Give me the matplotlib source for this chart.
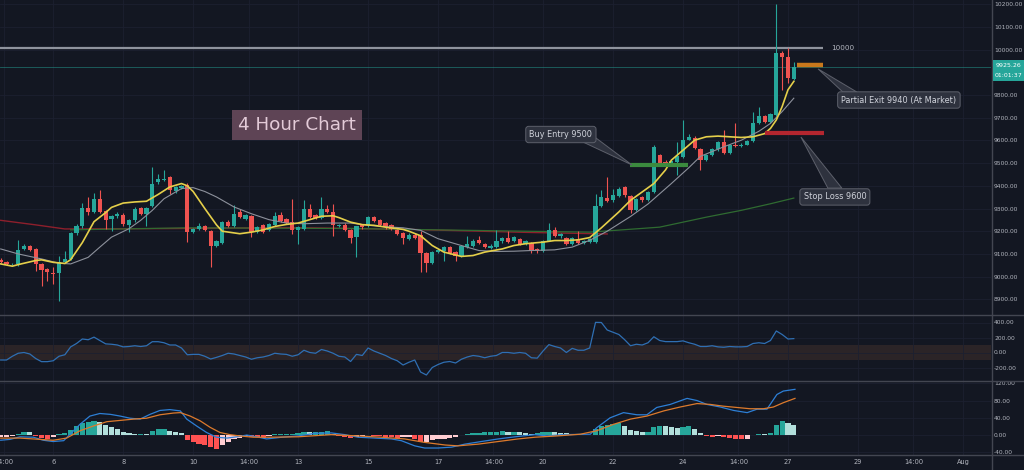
import matplotlib
matplotlib.use('Agg')
import matplotlib.pyplot as plt
import numpy as np
from matplotlib.patches import Rectangle, Polygon
from matplotlib.lines import Line2D

# ---------------- data ----------------
# 4h candles, first candle July 4 12:00, last July 27 04:00 (x axis = day of July)
start_day = 4.5
candle_days = 1 / 6

opens = [9075, 9063, 9054, 9056, 9122, 9133, 9122, 9056, 9034, 9015,
         9015, 9066, 9078, 9192, 9221, 9302, 9284, 9343, 9289, 9255,
         9268, 9273, 9228, 9248, 9302, 9274, 9310, 9417, 9425, 9439,
         9377, 9392, 9405, 9196, 9211, 9225, 9200, 9137, 9149, 9240,
         9223, 9285, 9252, 9265, 9196, 9226, 9204, 9226, 9270, 9255,
         9240, 9207, 9211, 9299, 9270, 9260, 9299, 9285, 9223, 9229,
         9207, 9174, 9226, 9226, 9262, 9251, 9236, 9226, 9207, 9192,
         9166, 9184, 9184, 9103, 9059, 9108, 9115, 9130, 9108, 9093,
         9130, 9137, 9162, 9145, 9127, 9130, 9155, 9171, 9159, 9166,
         9145, 9147, 9122, 9115, 9159, 9206, 9178, 9171, 9142, 9166,
         9149, 9152, 9152, 9310, 9348, 9336, 9354, 9395, 9354, 9292,
         9351, 9336, 9373, 9535, 9506, 9495, 9506, 9528, 9604, 9612,
         9560, 9513, 9535, 9560, 9591, 9543, 9582, 9575, 9582, 9597,
         9678, 9708, 9683, 9712, 9985, 9967, 9871]
highs = [9082, 9068, 9062, 9162, 9144, 9138, 9125, 9060, 9036, 9041,
         9093, 9115, 9195, 9230, 9324, 9351, 9369, 9380, 9292, 9270,
         9285, 9280, 9255, 9305, 9305, 9305, 9481, 9454, 9469, 9442,
         9400, 9405, 9412, 9215, 9236, 9228, 9205, 9160, 9245, 9248,
         9314, 9300, 9275, 9270, 9222, 9230, 9238, 9285, 9285, 9260,
         9344, 9222, 9336, 9322, 9275, 9351, 9314, 9322, 9233, 9235,
         9212, 9225, 9232, 9268, 9268, 9255, 9240, 9230, 9210, 9196,
         9190, 9190, 9203, 9108, 9112, 9122, 9135, 9135, 9112, 9138,
         9181, 9164, 9181, 9150, 9142, 9206, 9175, 9200, 9178, 9170,
         9160, 9152, 9126, 9162, 9236, 9218, 9192, 9175, 9176, 9203,
         9160, 9171, 9366, 9380, 9439, 9388, 9395, 9400, 9358, 9348,
         9356, 9378, 9580, 9540, 9512, 9515, 9594, 9690, 9628, 9618,
         9565, 9540, 9565, 9598, 9646, 9584, 9675, 9588, 9602, 9727,
         9749, 9712, 9722, 10203, 9995, 10007, 9947]
lows = [9062, 9050, 9050, 9049, 9118, 9112, 9027, 8960, 8982, 8967,
        8894, 9060, 9075, 9185, 9215, 9270, 9280, 9280, 9211, 9203,
        9260, 9225, 9196, 9240, 9270, 9225, 9305, 9410, 9420, 9366,
        9370, 9388, 9152, 9190, 9205, 9200, 9044, 9130, 9145, 9218,
        9218, 9258, 9248, 9174, 9190, 9190, 9200, 9222, 9240, 9230,
        9189, 9145, 9205, 9258, 9252, 9255, 9280, 9181, 9218, 9200,
        9150, 9085, 9212, 9220, 9240, 9224, 9212, 9206, 9185, 9145,
        9162, 9165, 9019, 9019, 9055, 9104, 9071, 9098, 9071, 9088,
        9126, 9132, 9142, 9125, 9122, 9126, 9150, 9148, 9154, 9140,
        9140, 9105, 9106, 9110, 9155, 9176, 9172, 9138, 9138, 9144,
        9145, 9148, 9148, 9305, 9328, 9330, 9350, 9352, 9280, 9288,
        9330, 9332, 9368, 9495, 9490, 9490, 9447, 9524, 9600, 9560,
        9469, 9508, 9530, 9555, 9538, 9538, 9572, 9570, 9578, 9592,
        9674, 9678, 9678, 9706, 9823, 9852, 9865]
closes = [9066, 9054, 9057, 9119, 9133, 9118, 9056, 9029, 9022, 9010,
          9066, 9078, 9192, 9221, 9302, 9284, 9343, 9284, 9251, 9267,
          9277, 9230, 9251, 9299, 9274, 9302, 9407, 9429, 9432, 9383,
          9395, 9400, 9196, 9211, 9225, 9206, 9133, 9155, 9240, 9223,
          9277, 9262, 9270, 9196, 9218, 9196, 9233, 9265, 9245, 9236,
          9204, 9218, 9299, 9263, 9258, 9299, 9285, 9226, 9229, 9207,
          9171, 9221, 9218, 9262, 9245, 9229, 9218, 9211, 9189, 9171,
          9184, 9171, 9103, 9059, 9108, 9118, 9130, 9103, 9089, 9133,
          9142, 9159, 9147, 9130, 9137, 9155, 9171, 9152, 9174, 9145,
          9155, 9111, 9111, 9159, 9206, 9181, 9186, 9142, 9171, 9149,
          9155, 9166, 9310, 9351, 9333, 9358, 9388, 9358, 9292, 9343,
          9336, 9373, 9572, 9501, 9495, 9510, 9531, 9604, 9616, 9565,
          9513, 9535, 9560, 9594, 9543, 9579, 9576, 9582, 9597, 9678,
          9708, 9683, 9717, 9985, 9967, 9874, 9925.26]

# moving averages: (candle index, price)
yellow_idx = [0, 2, 3, 6, 7, 9, 11, 12, 14, 16, 18, 19, 21, 23, 25, 27, 29, 31, 32, 33,
              35, 37, 38, 41, 43, 45, 47, 49, 51, 53, 55, 57, 58, 60, 62, 64, 66, 69, 70, 72,
              74, 76, 79, 81, 83, 86, 88, 90, 93, 95, 97, 99, 101, 103, 106, 108, 110, 112, 114, 115,
              117, 119, 121, 123, 125, 127, 129, 131, 132, 133, 134, 135, 136]
yellow_val = [9056, 9046, 9053, 9071, 9074, 9063, 9058, 9075, 9150, 9242, 9282, 9305, 9324, 9329, 9332, 9362, 9395, 9410, 9400, 9375,
              9300, 9228, 9200, 9189, 9196, 9206, 9221, 9230, 9236, 9251, 9266, 9268, 9260, 9240, 9229, 9226, 9218, 9208, 9200, 9180,
              9137, 9108, 9089, 9093, 9108, 9122, 9137, 9145, 9152, 9159, 9159, 9162, 9172, 9215, 9285, 9336, 9373, 9410, 9470, 9513,
              9557, 9601, 9616, 9619, 9616, 9613, 9616, 9630, 9653, 9690, 9749, 9823, 9860]
gray_idx = [0, 3, 7, 10, 12, 15, 17, 19, 22, 24, 26, 28, 31, 33, 35, 37, 40, 43, 46, 49,
            52, 56, 60, 63, 67, 69, 72, 75, 79, 82, 85, 88, 91, 95, 98, 101, 104, 108, 111, 115,
            118, 120, 124, 127, 130, 132, 134, 136]
gray_val = [9122, 9100, 9078, 9059, 9056, 9085, 9130, 9174, 9211, 9248, 9292, 9343, 9388, 9392, 9375, 9351, 9307, 9277, 9251, 9236,
            9233, 9236, 9236, 9226, 9218, 9215, 9204, 9167, 9137, 9115, 9111, 9112, 9115, 9118, 9130, 9160, 9200, 9265, 9320, 9410,
            9480, 9530, 9572, 9601, 9640, 9675, 9727, 9786]
red_ma_idx = [0, 6, 11, 30, 50, 70, 90, 104]
red_ma_val = [9248, 9228, 9210, 9212, 9216, 9208, 9195, 9188]
green_ma_idx = [12, 32, 60, 90, 101, 106, 113, 121, 127, 132, 136]
green_ma_val = [9206, 9215, 9212, 9200, 9196, 9205, 9218, 9262, 9292, 9321, 9346]

# CCI per candle
cci = [-100, -100, -50, -10, 0, -20, -80, -122, -122, -110,
       -50, -30, 75, 120, 180, 170, 205, 160, 115, 110,
       100, 75, 80, 90, 80, 90, 144, 144, 130, 100,
       100, 60, -30, -25, -25, -50, -87, -65, -40, -10,
       -20, -40, -60, -90, -70, -60, -40, -10, -20, -25,
       -50, -30, 30, 0, -10, 40, 20, -10, -50, -60,
       -120, -25, -40, 60, 20, -10, -40, -80, -110, -167,
       -130, -100, -260, -300, -200, -160, -130, -120, -140, -90,
       -60, -40, -50, -70, -50, -40, 0, 0, -10, 0,
       -10, -70, -75, 20, 105, 80, 60, 0, 55, 30,
       30, 60, 402, 400, 300, 270, 240, 170, 90, 110,
       100, 130, 210, 160, 145, 145, 145, 155, 130, 110,
       80, 80, 90, 75, 70, 80, 75, 75, 80, 120,
       130, 120, 160, 287, 240, 180, 185]

# MACD histogram per candle
macd_hist = [-4, -4, -3, 3, 7, 6, -3, -6, -8, -5,
             2, 5, 12, 20, 28, 31, 32, 30, 24, 18,
             13, 8, 4, 3, 3, 2, 10, 13, 14, 10,
             8, 5, -12, -15, -20, -24, -28, -33, -22, -15,
             -10, -6, -3, -4, -5, -6, -3, 3, 3, 3,
             3, 5, 7, 6, 7, 8, 9, 3, -2, -5,
             -6, -4, -3, -1, -2, -3, -4, -5, -6, -5,
             -4, -10, -16, -15, -12, -10, -8, -6, -4, -1,
             3, 4, 5, 6, 7, 8, 8.5, 7, 7.5, 6,
             5, 3, 4, 7, 8, 7, 5, 4, 1, 0.5,
             0.3, 0.2, 13, 20, 23, 26, 28, 22, 12, 10,
             8, 8, 18, 21, 20, 18, 17, 19, 20, 15,
             5, -3, -5, -3, -5, -7, -8, -9, -8, -1,
             3, 2.5, 5, 24, 32, 28, 24]
macd_idx = [0, 1.6, 3.3, 5.6, 7.3, 9, 10.8, 11.9, 13.6, 15.3, 17, 18.8, 20.5, 22.2, 23.9, 25.6, 27.3, 29, 30.8, 31.9,
            33.6, 35.3, 37, 38.8, 40.5, 42.2, 43.9, 45.6, 48.2, 51, 53.9, 56.7, 59, 61.3, 64.2, 67, 68.7, 71, 72.7, 75,
            77.3, 79.6, 82.4, 85.3, 88.2, 91.6, 93.7, 96.5, 101.1, 102.2, 104.5, 106.8, 109.1, 110.8, 112.5, 114.8, 117.7, 119.4, 121.1, 123.4,
            125.7, 128, 129.7, 131.4, 133.1, 134.2, 136.2]
macd_val = [-12, -10, -4, -5, -12, -15, -13, 2, 25, 44, 50, 48, 44, 39, 37, 48, 57, 59, 56, 37,
            21, 6, -5, -7, -4, 0, -4, -9, -5, -2, 4, 5, 1, -5, -7, -9, -13, -25, -30, -30,
            -28, -21, -15, -9, -4, 1, -2, 1, 2, 17, 40, 52, 47, 47, 64, 71, 85, 80, 71, 65,
            57, 52, 60, 60, 94, 102, 106]
signal_idx = [0, 3.3, 5.6, 9, 11.3, 13.6, 15.9, 18.2, 20.5, 22.8, 25, 27.3, 29.6, 30.8, 32.5, 34.2, 35.9, 37.6, 39.3, 41,
              43.3, 46.2, 51, 56.7, 61.3, 65.3, 69.3, 72.7, 76.2, 78.4, 81.9, 85.3, 88.7, 91.6, 95.4, 99.4, 102.2, 105.1, 108, 110.8,
              113.7, 116.5, 119.4, 121.7, 123.9, 126.2, 128.5, 130.8, 132.5, 134.2, 136.2]
signal_val = [-7, -7, -9, -12, -7, 10, 21, 31, 34, 37, 39, 47, 51, 52, 44, 33, 18, 6, 1, -2,
              -5, -5, -4, 1, -2, -5, -9, -17, -23, -25, -21, -15, -9, -5, -2, 2, 10, 25, 37, 44,
              56, 65, 73, 71, 67, 64, 61, 61, 65, 75, 85]

price_ticks = [10200, 10100, 10000, 9800, 9700, 9600, 9500, 9400, 9300, 9200, 9100, 9000, 8900]
cci_ticks = [400, 200, 0, -200]
macd_ticks = [120, 80, 40, 0, -40]
time_ticks = [4 + 14 / 24, 6, 8, 10, 11 + 14 / 24, 13, 15, 17, 18 + 14 / 24, 20, 22, 24, 25 + 14 / 24, 27, 29, 30 + 14 / 24, 32]
time_labels = ['14:00', '6', '8', '10', '14:00', '13', '15', '17', '14:00', '20', '22', '24', '14:00', '27', '29', '14:00', 'Aug']

level_10000 = 10000
last_price = 9925.26
buy_entry = 9490
stop_level = 9632
exit_level = 9934

# ---------------- style ----------------
BG = '#131722'
GRID = '#1c2030'
TXT = '#b2b5be'
UP = '#26a69a'
DN = '#ef5350'
SEP = '#434651'

W, H = 1024, 470
fig = plt.figure(figsize=(W / 100, H / 100), dpi=100, facecolor=BG)
plot_w = 991 / W


def ax_rect(top_px, bot_px):
    return [0, 1 - bot_px / H, plot_w, (bot_px - top_px) / H]


ax = fig.add_axes(ax_rect(0, 315))
ax_cci = fig.add_axes(ax_rect(315, 381), sharex=ax)
ax_macd = fig.add_axes(ax_rect(381, 455), sharex=ax)

xl = (4.48, 4.48 + 991 / 34.99)
for a in (ax, ax_cci, ax_macd):
    a.set_facecolor(BG)
    for s in a.spines.values():
        s.set_visible(False)
    a.grid(True, color=GRID, lw=0.6)
    a.set_axisbelow(True)
    a.yaxis.tick_right()
    a.tick_params(axis='y', length=0, pad=2.2, labelsize=4.3, labelcolor=TXT)
    a.tick_params(axis='x', length=0)
    a.set_xlim(*xl)
    a.set_xticks(time_ticks)

ax.tick_params(axis='x', labelbottom=False)
ax_cci.tick_params(axis='x', labelbottom=False)
ax_macd.set_xticklabels(time_labels)
ax_macd.tick_params(axis='x', labelsize=4.8, labelcolor=TXT, pad=3)

# ---- main panel ----
o = np.array(opens, float)
c = np.array(closes, float)
hi = np.array(highs, float)
lo = np.array(lows, float)
tt = start_day + np.arange(len(c)) * candle_days
cols = [UP if cc >= oo else DN for oo, cc in zip(o, c)]

def to_t(idx):
    return start_day + np.asarray(idx, float) * candle_days

ax.plot(to_t(red_ma_idx), red_ma_val, color='#8e1f2c', lw=1.0, zorder=2)
ax.plot(to_t(green_ma_idx), green_ma_val, color='#2f6b31', lw=0.9, zorder=2)
ax.vlines(tt, lo, hi, colors=cols, lw=0.8, zorder=3)
body_h = np.maximum(np.abs(c - o), 3)
ax.bar(tt, body_h, bottom=np.minimum(o, c), width=0.122, color=cols, zorder=4, linewidth=0)
ax.plot(to_t(gray_idx), gray_val, color='#8d919c', lw=0.8, zorder=5)
ax.plot(to_t(yellow_idx), yellow_val, color='#e5cf4a', lw=1.2, zorder=6)

ax.set_ylim(8831, 10218.5)
ax.set_yticks(price_ticks)
ax.set_yticklabels([f'{v:.2f}' for v in price_ticks])

# horizontal levels
ax.axhline(last_price, color=UP, lw=0.6, alpha=0.55, zorder=1)
ax.hlines(level_10000 + 7, xl[0], 28.0, color='#8f939d', lw=1.6, zorder=2)
ax.text(28.22, level_10000 + 7, '10000', color=TXT, fontsize=5.2, va='center', ha='left')
ax.hlines(buy_entry, 22.48, 24.14, color='#3b8a3e', lw=3.0, zorder=7)
ax.hlines(stop_level, 26.34, 28.03, color='#b3262f', lw=3.0, zorder=7)
ax.hlines(exit_level, 27.26, 28.0, color='#c9781c', lw=3.2, zorder=7)

# callouts
BOX_FC = '#2e323e'
BOX_EC = '#5d606b'
LBL = '#d1d4dc'

def callout(x, y, text, poly):
    ax.add_patch(Polygon(poly, closed=True, fc=BOX_FC, ec=BOX_EC, lw=0.7, zorder=8))
    ax.text(x, y, text, color=LBL, fontsize=5.9, ha='center', va='center', zorder=9,
            bbox=dict(boxstyle='round,pad=0.45,rounding_size=0.35', fc=BOX_FC, ec=BOX_EC, lw=0.7))

callout(20.51, 9626, 'Buy Entry 9500', [(21.14, 9593), (21.51, 9611), (22.54, 9492)])
callout(30.17, 9778, 'Partial Exit 9940 (At Market)', [(28.57, 9813), (28.97, 9813), (27.86, 9915)])
callout(28.34, 9351, 'Stop Loss 9600', [(28.14, 9390), (28.54, 9390), (27.37, 9615)])

ax.text(12.97, 9668, '4 Hour Chart', color='#e3cbd8', fontsize=13.2, ha='center', va='center', zorder=9,
        bbox=dict(boxstyle='square,pad=0.32', fc='#5e4455', ec='none'))

# ---- CCI ----
ax_cci.axhspan(-100, 100, color='#2b2427', zorder=0, lw=0)
ax_cci.plot(tt, cci, color='#2f6fb3', lw=0.9, zorder=3)
ax_cci.set_ylim(-380, 500)
ax_cci.set_yticks(cci_ticks)
ax_cci.set_yticklabels([f'{v:.2f}' for v in cci_ticks])

# ---- MACD ----
hist = np.array(macd_hist, float)
hcols = []
for i, v in enumerate(hist):
    prev = hist[i - 1] if i > 0 else v
    if v >= 0:
        hcols.append('#26a69a' if v >= prev else '#b2dfdb')
    else:
        hcols.append('#ff5252' if v < prev else '#ffcdd2')
ax_macd.bar(tt, hist, width=0.15, color=hcols, zorder=2, linewidth=0)
ax_macd.plot(to_t(macd_idx), macd_val, color='#2d7fd6', lw=0.9, zorder=3)
ax_macd.plot(to_t(signal_idx), signal_val, color='#dd7a2c', lw=0.9, zorder=3)
ax_macd.set_ylim(-46.2, 125.3)
ax_macd.set_yticks(macd_ticks)
ax_macd.set_yticklabels([f'{v:.2f}' for v in macd_ticks])

# ---- separators ----
def fline(x0, y0, x1, y1, color=SEP, lw=1.0):
    fig.add_artist(Line2D([x0 / W, x1 / W], [1 - y0 / H, 1 - y1 / H], color=color, lw=lw))

fline(0, 315, W, 315)
fline(0, 381, W, 381)
fline(0, 455, W, 455)
fline(991.5, 0, 991.5, 470)

# current price tag on axis
fig.add_artist(Rectangle((993 / W, 1 - 81 / H), 31 / W, 21 / H, transform=fig.transFigure,
                         fc=UP, ec='none', zorder=10))
fig.text(1008.5 / W, 1 - 65.5 / H, f'{last_price:.2f}', color='white', fontsize=4.5,
         ha='center', va='center', zorder=11)
fig.text(1008.5 / W, 1 - 75.5 / H, '01:01:37', color='white', fontsize=4.5,
         ha='center', va='center', zorder=11)

fig.savefig('out.png', dpi=100, facecolor=BG)
